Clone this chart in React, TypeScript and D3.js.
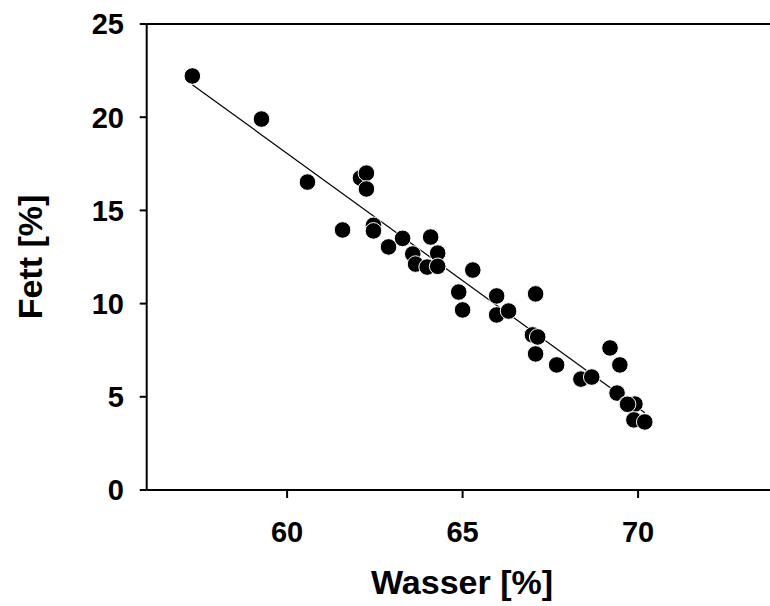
import React from "react";
import * as d3 from "d3";

const wasser = [57.3, 59.27, 60.58, 61.58, 62.09, 62.26, 62.26, 62.46, 62.46, 62.89, 63.29, 63.58, 63.66, 64.09, 64.29, 63.99, 64.29, 65.29, 64.89, 65.0, 65.97, 65.97, 66.31, 67.08, 66.99, 67.14, 67.08, 67.68, 68.37, 68.68, 69.2, 69.48, 69.4, 69.68, 69.91, 69.7, 69.88, 70.19];
const fett = [22.21, 19.9, 16.52, 13.95, 16.74, 17.0, 16.15, 14.2, 13.9, 13.04, 13.5, 12.66, 12.12, 13.57, 12.71, 11.96, 12.0, 11.8, 10.62, 9.66, 10.41, 9.39, 9.6, 10.52, 8.32, 8.21, 7.3, 6.71, 5.95, 6.06, 7.62, 6.71, 5.2, 4.61, 4.61, 4.6, 3.76, 3.65];
const xTicks = [60, 65, 70];
const yTicks = [0, 5, 10, 15, 20, 25];

export default function App() {
  const left = 146.7, right = 778.5, top = 24, bottom = 490;
  const x = d3.scaleLinear().domain([56, 74]).range([left, right]);
  const y = d3.scaleLinear().domain([0, 25]).range([bottom, top]);
  const n = wasser.length;
  const mx = d3.mean(wasser)!, my = d3.mean(fett)!;
  let sxy = 0, sxx = 0;
  for (let i = 0; i < n; i++) { sxy += (wasser[i] - mx) * (fett[i] - my); sxx += (wasser[i] - mx) ** 2; }
  const b = sxy / sxx, a = my - b * mx;
  const [x0, x1] = d3.extent(wasser) as [number, number];
  const font = "'Liberation Sans', Arial, sans-serif";
  return (
    <svg width={770} height={606} style={{ position: "absolute", left: 0, top: 0, background: "#fff" }} fontFamily={font}>
      <line x1={x(x0)} y1={y(a + b * x0)} x2={x(x1)} y2={y(a + b * x1)} stroke="#000" strokeWidth={1.2} />
      {wasser.map((w, i) => (
        <circle key={i} cx={x(w)} cy={y(fett[i])} r={8.3} fill="#000" stroke="#fff" strokeWidth={1} />
      ))}
      <line x1={left} y1={top} x2={770} y2={top} stroke="#000" strokeWidth={2} />
      <line x1={left} y1={top} x2={left} y2={bottom} stroke="#000" strokeWidth={2} />
      <line x1={left} y1={bottom} x2={770} y2={bottom} stroke="#000" strokeWidth={2} />
      {yTicks.map((t) => (
        <g key={t}>
          <line x1={left - 7} x2={left} y1={y(t)} y2={y(t)} stroke="#000" strokeWidth={2} />
          <text x={124} y={y(t)} dy="0.36em" textAnchor="end" fontSize={29} fontWeight="bold">{t}</text>
        </g>
      ))}
      {xTicks.map((t) => (
        <g key={t}>
          <line x1={x(t)} x2={x(t)} y1={bottom} y2={bottom + 8} stroke="#000" strokeWidth={2} />
          <text x={x(t)} y={542} textAnchor="middle" fontSize={29} fontWeight="bold">{t}</text>
        </g>
      ))}
      <text x={462} y={594} textAnchor="middle" fontSize={34} fontWeight="bold">Wasser [%]</text>
      <text transform={`translate(42,${(top + bottom) / 2}) rotate(-90)`} textAnchor="middle" fontSize={34} fontWeight="bold">Fett [%]</text>
    </svg>
  );
}
